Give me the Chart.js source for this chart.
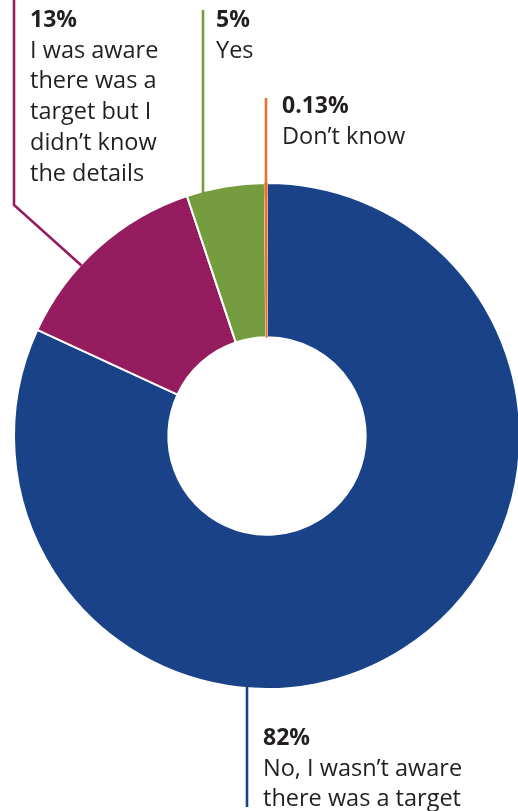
<!DOCTYPE html>
<html><head><meta charset="utf-8">
<script src="https://cdn.jsdelivr.net/npm/chart.js@4"></script>
<style>
html,body{margin:0;padding:0;background:#fff;overflow:hidden;width:518px;height:811px;}
#wrap{position:absolute;left:0;top:0;width:534px;height:811px;}
</style></head><body>
<div id="wrap"><canvas id="c"></canvas></div>
<script>
const categories = ["No, I wasn't aware there was a target", "I was aware there was a target but I didn't know the details", "Yes", "Don't know"];
const values = [82, 13, 5, 0.13];
const percentLabels = ["82%", "13%", "5%", "0.13%"];
const labelLines = [
  ["No, I wasn\u2019t aware", "there was a target"],
  ["I was aware", "there was a", "target but I", "didn\u2019t know", "the details"],
  ["Yes"],
  ["Don\u2019t know"]
];
const colors = ["#1a4289", "#951c5e", "#759d40", "#e8722c"];

// layout of labels (pixels): text x, first baseline y, leader path
const labelLayout = [
  {x:263, y:745, path:[[247,807]], startX:247},
  {x:30, y:27, path:[[14,205],[14,0]]},
  {x:216, y:27, path:[[203,10]], startX:203},
  {x:282, y:113, path:[[266,98]], startX:266, inset:14}
];

const labelPlugin = {
  id:'labels',
  afterDraw(chart){
    const ctx = chart.ctx;
    const meta = chart.getDatasetMeta(0);
    meta.data.forEach((arc, i) => {
      const L = labelLayout[i];
      const p = arc.getProps(['x','y','startAngle','endAngle','outerRadius'], true);
      let sx, sy;
      if (L.startX !== undefined) {
        sx = L.startX;
        const dx = sx - p.x;
        const dy = Math.sqrt(Math.max(p.outerRadius*p.outerRadius - dx*dx, 0));
        const ins = L.inset || 2;
        sy = i === 0 ? p.y + dy - ins : p.y - dy + ins;
      } else {
        const a = p.startAngle + (p.endAngle - p.startAngle) * 0.38;
        sx = p.x + Math.cos(a) * (p.outerRadius - 1);
        sy = p.y + Math.sin(a) * (p.outerRadius - 1);
      }
      ctx.save();
      ctx.strokeStyle = colors[i];
      ctx.lineWidth = 2.6;
      ctx.lineJoin = 'miter';
      ctx.beginPath();
      ctx.moveTo(sx, sy);
      L.path.forEach(pt => ctx.lineTo(pt[0], pt[1]));
      ctx.stroke();
      ctx.fillStyle = '#231f20';
      ctx.textBaseline = 'alphabetic';
      ctx.textAlign = 'left';
      ctx.font = 'bold 23px "Open Sans"';
      ctx.fillText(percentLabels[i], L.x, L.y);
      ctx.font = '23.5px "Open Sans"';
      labelLines[i].forEach((t, k) => ctx.fillText(t, L.x, L.y + 30.7 * (k + 1)));
      ctx.restore();
    });
  }
};

new Chart(document.getElementById('c'), {
  type:'doughnut',
  data:{labels:categories, datasets:[{data:values, backgroundColor:colors,
    borderColor:['#ffffff','#ffffff','#ffffff','#e8722c'], borderWidth:[2,2,2,1.2]}]},
  options:{
    responsive:true, maintainAspectRatio:false, animation:false,
    cutout:'39%',
    layout:{padding:{left:13, right:13, top:182, bottom:121}},
    plugins:{legend:{display:false}, tooltip:{enabled:false}}
  },
  plugins:[labelPlugin]
});
</script>
</body></html>
